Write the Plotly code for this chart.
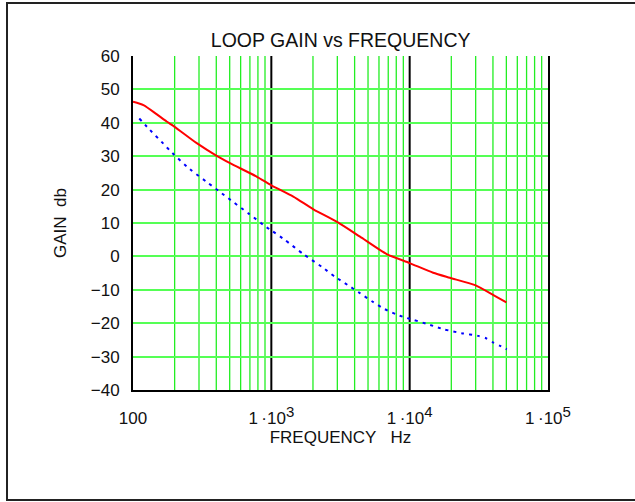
import math
import plotly.graph_objects as go

# ---- data ----
red_freq = [100, 119, 148, 175, 200, 289, 403, 503, 783, 1000, 1442, 2014, 3048,
            4375, 6823, 10000, 14790, 19500, 29720, 39260, 50000]
red_gain = [46.3, 45.3, 42.6, 40.4, 38.8, 33.9, 30.1, 27.9, 23.9, 21.3, 17.9, 14.1, 10.1,
            5.9, 0.7, -2.0, -4.9, -6.4, -8.6, -11.3, -13.8]

blue_freq = [111, 133, 161, 192, 258, 351, 438, 489, 676, 927, 1007, 1256, 1702, 2312,
             2884, 3548, 4365, 5370, 6607, 7943, 9120, 10640, 14030, 17540, 23770,
             31410, 35650, 40270, 45080, 50350]
blue_gain = [41.3, 37.8, 34.3, 31.0, 26.1, 21.9, 18.9, 17.4, 13.0, 8.7, 7.7, 4.9, 0.7, -3.1,
             -6.1, -8.5, -11.0, -13.5, -15.8, -17.3, -18.2, -19.0, -20.5, -21.8, -23.0,
             -23.8, -24.5, -25.8, -26.8, -27.8]

x_min, x_max = 100, 100000
y_min, y_max = -40, 60
y_ticks = list(range(-40, 61, 10))
decades = [100, 1000, 10000, 100000]
decade_labels = ["100",
                 "1\u2009\u00b710<sup><span style='font-size:15px'>3</span></sup>",
                 "1\u2009\u00b710<sup><span style='font-size:15px'>4</span></sup>",
                 "1\u2009\u00b710<sup><span style='font-size:15px'>5</span></sup>"]
major_lines = [1000, 10000]

# grid values: 1..9 x each decade
x_grid = []
for d in decades[:-1]:
    for k in range(1, 10):
        x_grid.append(d * k)
x_grid.append(decades[-1])

FONT = "Liberation Sans, Arial, sans-serif"

fig = go.Figure()
fig.add_trace(go.Scatter(x=red_freq, y=red_gain, mode="lines",
                         line=dict(color="#ff0000", width=2, shape="spline", smoothing=0.6),
                         showlegend=False))
fig.add_trace(go.Scatter(x=blue_freq, y=blue_gain, mode="lines",
                         line=dict(color="#0000ff", width=2, dash="3px,5px",
                                   shape="spline", smoothing=0.6),
                         showlegend=False))

shapes = []
lx0, lx1 = math.log10(x_min), math.log10(x_max)


def to_paper(v):
    return (math.log10(v) - lx0) / (lx1 - lx0)


for v in x_grid:
    if v in major_lines or v in (x_min, x_max):
        continue
    px = to_paper(v)
    shapes.append(dict(type="line", xref="paper", yref="paper", x0=px, x1=px, y0=0, y1=1,
                       line=dict(color="#22ee22", width=1.3), layer="below"))
for v in major_lines:
    px = to_paper(v)
    shapes.append(dict(type="line", xref="paper", yref="paper", x0=px, x1=px, y0=0, y1=1,
                       line=dict(color="black", width=2), layer="between"))
# outer frame
shapes.append(dict(type="rect", xref="paper", yref="paper",
                   x0=-0.3036, x1=1.23, y0=-0.329, y1=1.1587,
                   line=dict(color="#222222", width=2), fillcolor="rgba(0,0,0,0)", layer="below"))

fig.update_layout(
    width=635, height=502,
    margin=dict(l=133, r=87, t=56, b=112),
    paper_bgcolor="white", plot_bgcolor="white",
    font=dict(family=FONT, size=17, color="#111111"),
    title=dict(text="LOOP GAIN vs FREQUENCY", x=0.5365, xanchor="center",
               y=1 - 40.5 / 502, yanchor="middle", yref="container",
               font=dict(size=19.5, family=FONT, color="#111111")),
    shapes=shapes,
    xaxis=dict(type="log", range=[lx0, lx1], tickmode="array", tickvals=decades,
               ticktext=decade_labels, showgrid=False,
               showline=True, linecolor="black", linewidth=2, mirror=False,
               ticks="", ticklabelstandoff=12, zeroline=False,
               title=dict(text="FREQUENCY\u00a0\u00a0\u00a0Hz", standoff=4,
                          font=dict(size=17, family=FONT))),
    yaxis=dict(range=[y_min, y_max], tickmode="array", tickvals=y_ticks,
               showgrid=True, gridcolor="#55ff55", gridwidth=2,
               showline=True, linecolor="black", linewidth=2, mirror=True,
               ticks="", ticklabelstandoff=8, zeroline=False,
               title=dict(text="GAIN\u00a0\u00a0db", standoff=20,
                          font=dict(size=17, family=FONT))),
)

fig.write_html("out.html", config={"displayModeBar": False},
               post_script="document.body.style.margin='0';")
